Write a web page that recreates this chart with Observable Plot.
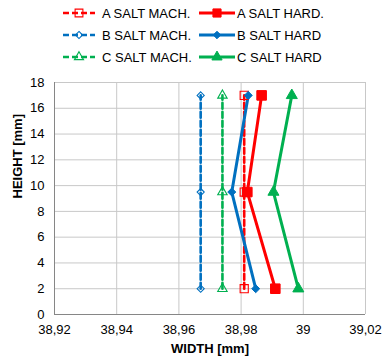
<!DOCTYPE html>
<html>
<head>
<meta charset="utf-8">
<script src="https://cdn.jsdelivr.net/npm/d3@7"></script>
<script src="https://cdn.jsdelivr.net/npm/@observablehq/plot@0.6"></script>
<style>
  html, body { margin: 0; padding: 0; background: #fff; }
  body { width: 382px; height: 362px; overflow: hidden; font-family: "Liberation Sans", Arial, sans-serif; }
  #legend { position: relative; height: 70px; width: 382px; }
  .item { position: absolute; display: flex; align-items: center; font-size: 13px; color: #000; white-space: nowrap; }
  .item svg { display: block; }
</style>
</head>
<body>
<div id="legend"></div>
<div id="chart"></div>
<script>
// ---- data ----
const heights = [2, 9.5, 17];
const aSaltMach = [38.981, 38.981, 38.981];
const aSaltHard = [38.991, 38.982, 38.9866];
const bSaltMach = [38.967, 38.967, 38.967];
const bSaltHard = [38.9847, 38.977, 38.9823];
const cSaltMach = [38.974, 38.974, 38.974];
const cSaltHard = [38.9984, 38.9904, 38.9963];
const seriesNames = ["A SALT MACH.", "A SALT HARD.", "B SALT MACH.", "B SALT HARD", "C SALT MACH.", "C SALT HARD"];
const xTicks = [38.92, 38.94, 38.96, 38.98, 39.0, 39.02];
const yTicks = [0, 2, 4, 6, 8, 10, 12, 14, 16, 18];

// ---- styles ----
const RED = "#FF0000", BLUE = "#0070C0", GREEN = "#00B050";
const series = [
  {name: seriesNames[0], xs: aSaltMach, color: RED,   dashed: true,  symbol: "square",   r: 4.6, lr: 4.4, filled: false},
  {name: seriesNames[1], xs: aSaltHard, color: RED,   dashed: false, symbol: "square",   r: 5.4, lr: 4.6, filled: true},
  {name: seriesNames[2], xs: bSaltMach, color: BLUE,  dashed: true,  symbol: "diamond2", r: 3.2, lr: 3.2, filled: false},
  {name: seriesNames[3], xs: bSaltHard, color: BLUE,  dashed: false, symbol: "diamond2", r: 3.6, lr: 3.4, filled: true},
  {name: seriesNames[4], xs: cSaltMach, color: GREEN, dashed: true,  symbol: "triangle", r: 3.5, lr: 3.4, filled: false},
  {name: seriesNames[5], xs: cSaltHard, color: GREEN, dashed: false, symbol: "triangle", r: 4.1, lr: 3.8, filled: true}
];

const rows = series.map(s => heights.map((h, i) => ({name: s.name, x: s.xs[i], y: h})));

const fmt = d => String(+d.toFixed(2)).replace(".", ",");

const marks = [
  Plot.gridX(xTicks, {stroke: "#C8C8C8", strokeOpacity: 1, strokeWidth: 1}),
  Plot.gridY(yTicks, {stroke: "#C8C8C8", strokeOpacity: 1, strokeWidth: 1}),
  Plot.ruleX([xTicks[0]], {stroke: "#868686", strokeWidth: 1}),
  Plot.ruleY([0], {stroke: "#868686", strokeWidth: 1}),
  Plot.axisX(xTicks, {tickSize: 0, tickPadding: 10, tickFormat: fmt, fontSize: 13, label: null}),
  Plot.axisY(yTicks, {tickSize: 0, tickPadding: 10, fontSize: 13, label: null})
];
series.forEach((s, k) => {
  marks.push(Plot.line(rows[k], {x: "x", y: "y", stroke: s.color, strokeWidth: s.dashed ? 2.6 : 3,
    strokeDasharray: s.dashed ? "6,3" : null}));
});
series.forEach((s, k) => {
  marks.push(Plot.dot(rows[k], {x: "x", y: "y", symbol: () => s.symbol, r: s.r,
    fill: s.filled ? s.color : "none", stroke: s.color, strokeWidth: s.filled ? 1 : 1.1}));
});
marks.push(Plot.text(["WIDTH [mm]"], {frameAnchor: "bottom", dy: 38, text: d => d, fontSize: 13, fontWeight: "bold", fill: "#000"}));
marks.push(Plot.text(["HEIGHT [mm]"], {frameAnchor: "left", dx: -37, rotate: -90, text: d => d, fontSize: 13, fontWeight: "bold", fill: "#000"}));

const chart = Plot.plot({
  width: 382,
  height: 292,
  marginLeft: 54,
  marginRight: 17,
  marginTop: 12,
  marginBottom: 48,
  style: {fontFamily: "Liberation Sans, Arial, sans-serif", fontSize: "13px", color: "#000", background: "#fff", overflow: "visible"},
  x: {domain: [38.92, 39.02]},
  y: {domain: [0, 18]},
  symbol: {type: "identity"},
  marks
});
document.getElementById("chart").appendChild(chart);

// ---- legend ----
const legend = document.getElementById("legend");
const rowY = [13, 35, 57];
series.forEach((s, k) => {
  const row = Math.floor(k / 2), col = k % 2;
  const left = col === 0 ? 63 : 199;
  const sw = col === 0 ? 32 : 36;
  const div = document.createElement("div");
  div.className = "item";
  div.style.left = left + "px";
  div.style.top = (rowY[row] - 9) + "px";
  div.style.height = "18px";
  const svg = d3.create("svg").attr("width", sw).attr("height", 18);
  svg.append("line").attr("x1", 0).attr("x2", sw).attr("y1", 9).attr("y2", 9)
    .attr("stroke", s.color).attr("stroke-width", s.dashed ? 2.6 : 3)
    .attr("stroke-dasharray", s.dashed ? "6,3" : null);
  const sym = {square: d3.symbolSquare, diamond2: d3.symbolDiamond2, triangle: d3.symbolTriangle}[s.symbol];
  svg.append("path").attr("d", d3.symbol(sym, Math.PI * s.lr * s.lr)())
    .attr("transform", `translate(${sw / 2},9)`)
    .attr("fill", s.filled ? s.color : "none").attr("stroke", s.color).attr("stroke-width", s.filled ? 1 : 1.1);
  div.appendChild(svg.node());
  const span = document.createElement("span");
  span.textContent = s.name;
  span.style.marginLeft = col === 0 ? "7px" : "2px";
  div.appendChild(span);
  legend.appendChild(div);
});
</script>
</body>
</html>
